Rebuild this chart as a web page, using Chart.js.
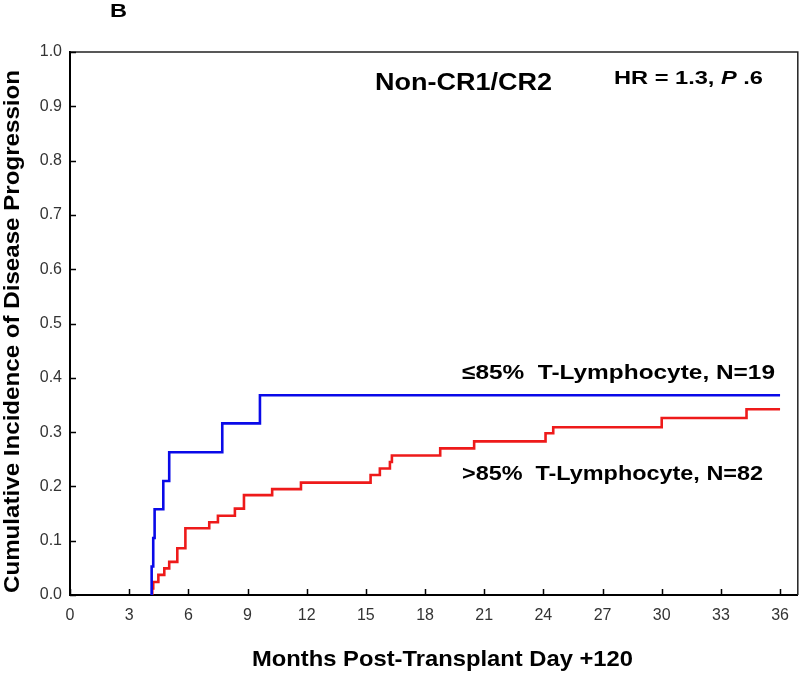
<!DOCTYPE html>
<html>
<head>
<meta charset="utf-8">
<script src="https://cdn.jsdelivr.net/npm/chart.js@4"></script>
<style>
  html, body { margin: 0; padding: 0; background: #fff; }
  #wrap { width: 800px; height: 673px; position: relative; }
</style>
</head>
<body>
<div id="wrap"><canvas id="c"></canvas></div>
<script>
// ---- Data ----
const xTicks = [0, 3, 6, 9, 12, 15, 18, 21, 24, 27, 30, 33, 36];
const yTicks = [0, 0.1, 0.2, 0.3, 0.4, 0.5, 0.6, 0.7, 0.8, 0.9, 1.0];

const lowTimes  = [4.14, 4.14, 4.22, 4.29, 4.73, 5.03, 7.72, 9.63, 36.0];
const lowValues = [0, 0.0526, 0.105, 0.158, 0.21, 0.263, 0.316, 0.368, 0.368];

const highTimes  = [4.17, 4.17, 4.22, 4.48, 4.78, 5.03, 5.44, 5.85, 7.06, 7.50, 8.36, 8.82, 10.25, 11.71, 15.24, 15.71, 16.22, 16.32, 18.77, 20.49, 24.11, 24.50, 30.0, 34.3, 36.0];
const highValues = [0, 0.012, 0.024, 0.037, 0.049, 0.061, 0.086, 0.123, 0.134, 0.146, 0.159, 0.184, 0.195, 0.207, 0.221, 0.233, 0.245, 0.257, 0.270, 0.283, 0.298, 0.309, 0.326, 0.342, 0.342];

const lowLabel  = "\u226485%  T-Lymphocyte, N=19";
const highLabel = ">85%  T-Lymphocyte, N=82";
const panelLabel = "B";
const subgroupLabel = "Non-CR1/CR2";
const xTitle = "Months Post-Transplant Day +120";
const yTitle = "Cumulative Incidence of Disease Progression";

const FONT = "Arial, 'Liberation Sans', Helvetica, sans-serif";

function pts(xs, ys) { return xs.map((x, i) => ({ x: x, y: ys[i] })); }

// draw text left-aligned at (x,y), stretched horizontally to a given width
function fitText(ctx, parts, x, y, width) {
  let total = 0;
  parts.forEach(p => { ctx.font = p.font; total += ctx.measureText(p.text).width; });
  const sx = width / total;
  ctx.save();
  ctx.translate(x, y);
  ctx.scale(sx, 1);
  ctx.textAlign = 'left';
  let cx = 0;
  parts.forEach(p => { ctx.font = p.font; ctx.fillText(p.text, cx, 0); cx += ctx.measureText(p.text).width; });
  ctx.restore();
}

const decor = {
  id: 'decor',
  afterDraw(chart) {
    const ctx = chart.ctx;
    const a = chart.chartArea;
    const xs = chart.scales.x, ys = chart.scales.y;
    ctx.save();
    // top & right frame
    ctx.strokeStyle = '#222';
    ctx.lineWidth = 1.5;
    ctx.beginPath();
    ctx.moveTo(a.left, a.top); ctx.lineTo(a.right, a.top); ctx.lineTo(a.right, a.bottom);
    ctx.stroke();
    // inward tick marks
    ctx.strokeStyle = '#000';
    ctx.lineWidth = 1.5;
    ctx.beginPath();
    xs.ticks.forEach(t => {
      const px = Math.round(xs.getPixelForValue(t.value)) + 0.5;
      ctx.moveTo(px, a.bottom); ctx.lineTo(px, a.bottom - 6);
    });
    ys.ticks.forEach(t => {
      const py = Math.round(ys.getPixelForValue(t.value)) + 0.5;
      ctx.moveTo(a.left, py); ctx.lineTo(a.left + 6, py);
    });
    ctx.stroke();

    ctx.fillStyle = '#000';
    ctx.textBaseline = 'middle';
    const B = s => 'bold ' + s + 'px ' + FONT;
    fitText(ctx, [{ text: panelLabel, font: B(19) }], 110, 12, 17);
    fitText(ctx, [{ text: subgroupLabel, font: B(24) }], 375, 83, 177);
    fitText(ctx, [
      { text: 'HR = 1.3, ', font: B(19) },
      { text: 'P', font: 'italic ' + B(19) },
      { text: ' .6', font: B(19) }
    ], 614, 79, 149);
    fitText(ctx, [{ text: lowLabel, font: B(21) }], 462, 373, 313);
    fitText(ctx, [{ text: highLabel, font: B(21) }], 462, 474, 301);
    fitText(ctx, [{ text: xTitle, font: B(22) }], 252, 660, 381);
    ctx.save();
    ctx.translate(13, 593);
    ctx.rotate(-Math.PI / 2);
    fitText(ctx, [{ text: yTitle, font: B(22) }], 0, 0, 523);
    ctx.restore();
    ctx.restore();
  }
};

new Chart(document.getElementById('c'), {
  type: 'line',
  data: {
    datasets: [
      { label: lowLabel, data: pts(lowTimes, lowValues), borderColor: '#0a0ae8', borderWidth: 2.6, stepped: 'before', pointRadius: 0, fill: false },
      { label: highLabel, data: pts(highTimes, highValues), borderColor: '#ee1a1a', borderWidth: 2.6, stepped: 'before', pointRadius: 0, fill: false }
    ]
  },
  options: {
    responsive: true,
    maintainAspectRatio: false,
    animation: false,
    events: [],
    layout: { padding: { top: 52, right: 2, left: 0, bottom: 0 } },
    plugins: { legend: { display: false }, tooltip: { enabled: false }, title: { display: false } },
    scales: {
      x: {
        type: 'linear',
        min: 0,
        max: 36.9,
        afterBuildTicks: s => { s.ticks = xTicks.map(v => ({ value: v })); },
        afterFit: s => { s.height = 78; },
        ticks: { color: '#333', font: { family: FONT, size: 16 }, padding: 11, maxRotation: 0, autoSkip: false, callback: v => String(v) },
        grid: { drawOnChartArea: false, drawTicks: false },
        border: { display: true, color: '#000', width: 2 }
      },
      y: {
        type: 'linear',
        min: 0,
        max: 1,
        afterBuildTicks: s => { s.ticks = yTicks.map(v => ({ value: v })); },
        afterFit: s => { s.width = 70; },
        ticks: { color: '#333', font: { family: FONT, size: 16 }, padding: 8, autoSkip: false, callback: v => Number(v).toFixed(1) },
        grid: { drawOnChartArea: false, drawTicks: false },
        border: { display: true, color: '#000', width: 2 }
      }
    }
  },
  plugins: [decor]
});
</script>
</body>
</html>
